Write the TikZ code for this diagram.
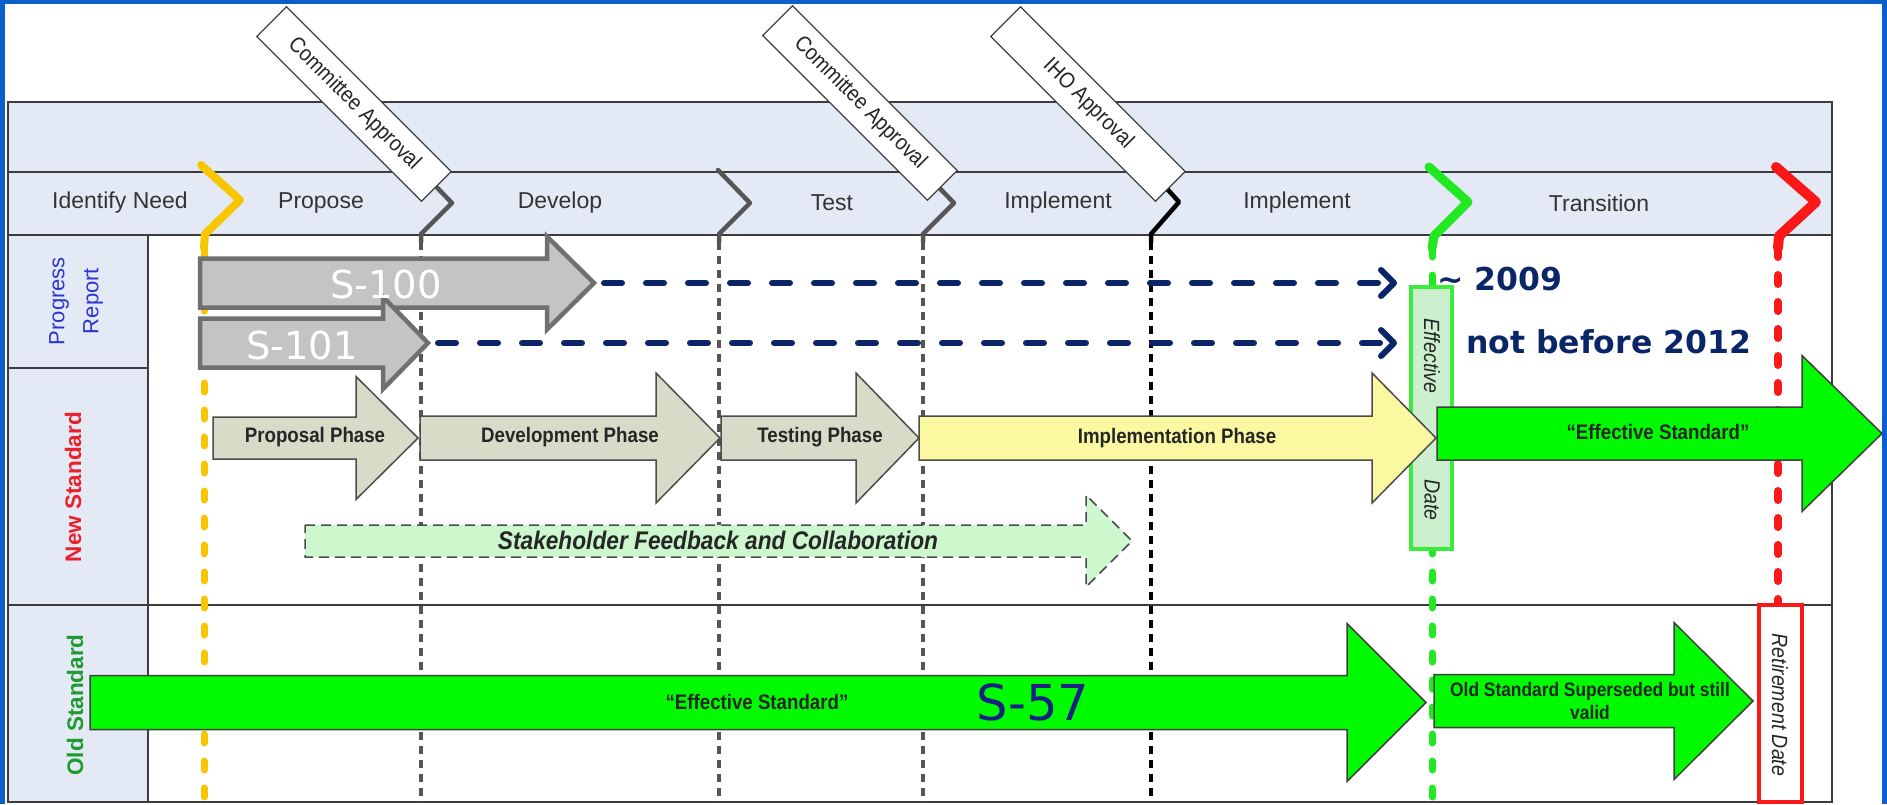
\documentclass[tikz,border=0pt]{standalone}
\usepackage{fontspec}
\setmainfont{Liberation Sans}
\newfontfamily\narrowfont[FakeStretch=0.89]{Liberation Sans}
\newfontfamily\dejavu{DejaVu Sans}
\usetikzlibrary{arrows.meta}

\definecolor{frameblue}{RGB}{10,96,200}
\definecolor{headfill}{RGB}{228,234,245}
\definecolor{tabline}{RGB}{60,60,60}
\definecolor{gold}{RGB}{247,198,0}
\definecolor{gategrey}{RGB}{85,85,85}
\definecolor{gategreen}{RGB}{34,232,34}
\definecolor{gatered}{RGB}{250,24,24}
\definecolor{brightgreen}{RGB}{0,250,0}
\definecolor{navy}{RGB}{10,38,104}
\definecolor{phasefill}{RGB}{217,219,200}
\definecolor{implfill}{RGB}{250,248,160}
\definecolor{feedfill}{RGB}{205,247,205}
\definecolor{datefill}{RGB}{204,240,206}
\definecolor{dateedge}{RGB}{60,236,60}
\definecolor{progblue}{RGB}{44,52,210}
\definecolor{newred}{RGB}{232,33,43}
\definecolor{oldgreen}{RGB}{30,154,46}
\definecolor{sblue}{RGB}{24,32,130}
\definecolor{greyfill}{RGB}{196,196,196}
\definecolor{greyedge}{RGB}{112,112,112}

% block arrow: style, start x, head x, tip x, mid y, half shaft, half head
\newcommand{\blockarrow}[7]{%
  \path[#1] (#2,#5-#6) -- (#3,#5-#6) -- (#3,#5-#7) -- (#4,#5)
    -- (#3,#5+#7) -- (#3,#5+#6) -- (#2,#5+#6) -- cycle;}

\tikzset{
  tabrule/.style={draw=tabline, line width=2pt},
  hdrtext/.style={font=\fontsize{23}{27}\selectfont, text=black!80},
  rowtext/.style={rotate=90, align=center, font=\fontsize{22}{34}\selectfont},
  approval/.style={draw=black!75, fill=white, line width=1.2pt, rotate=-45,
    minimum width=233pt, minimum height=42pt, inner sep=0pt,
    font=\narrowfont\fontsize{22}{26}\selectfont, text=black!85},
  gatechev/.style={line width=4.5pt, line join=round, line cap=round, draw=gategrey},
  gatedash/.style={line width=3.5pt, draw=gategrey, dash pattern=on 8pt off 6pt},
  bigdash/.style={line width=7pt, line cap=round, dash pattern=on 9pt off 18pt},
  greyarrow/.style={fill=greyfill, draw=greyedge, line width=4.5pt},
  phasearrow/.style={fill=phasefill, draw=black!70, line width=1.5pt},
  implarrow/.style={fill=implfill, draw=black!70, line width=1.5pt},
  greenarrow/.style={fill=brightgreen, draw=black!75, line width=1.5pt},
  feedarrow/.style={fill=feedfill, draw=black!70, line width=1.5pt, dash pattern=on 10pt off 6pt},
  phaselabel/.style={font=\narrowfont\bfseries\fontsize{21}{25}\selectfont, text=black!85},
  sname/.style={font=\dejavu\fontsize{38.5}{44}\selectfont, text=white},
  navydash/.style={draw=navy, line width=6pt, line cap=round, dash pattern=on 18pt off 24pt,
    -{Straight Barb[length=13pt, width=26pt, round]}},
  yeartext/.style={font=\dejavu\bfseries\fontsize{31.5}{36}\selectfont, text=navy, anchor=west, inner sep=0pt},
  vlabel/.style={rotate=-90, font=\narrowfont\itshape\fontsize{22}{26}\selectfont, text=black!85},
}

\begin{document}
\begin{tikzpicture}[x=1pt,y=-1pt]
	%\draw[help lines] (0,0) grid (1887,804);
	\useasboundingbox (0,0) rectangle (1887,804);
	\fill[frameblue] (0,0) rectangle (1887,804);
	\fill[white] (5,4) rectangle (1882,804);
	% table
	\fill[headfill] (8,102) rectangle (1832,235);
	\fill[headfill] (8,235) rectangle (148,802);
	\draw[tabrule] (8,102) rectangle (1832,802);
	\draw[tabrule] (8,172) -- (1832,172);
	\draw[tabrule] (8,235) -- (1832,235);
	\draw[tabrule] (8,368) -- (148,368);
	\draw[tabrule] (8,605) -- (1832,605);
	\draw[tabrule] (148,235) -- (148,802);
	\node[hdrtext] (identify) at (120,203) {Identify Need};
	\node[hdrtext] (propose) at (321,203) {Propose};
	\node[hdrtext] (develop) at (560,203) {Develop};
	\node[hdrtext] (test) at (832,203) {Test};
	\node[hdrtext] (implA) at (1058,203) {Implement};
	\node[hdrtext] (implB) at (1297,203) {Implement};
	\node[hdrtext] (transition) at (1599,203) {Transition};
	\node[rowtext, text=progblue] (progress) at (76,301) {Progress\\Report};
	\node[rowtext, text=newred, font=\bfseries\fontsize{22.5}{26}\selectfont] (newstd) at (73,487) {New Standard};
	\node[rowtext, text=oldgreen, font=\bfseries\fontsize{22.5}{26}\selectfont] (oldstd) at (75,705) {Old Standard};
	% gates
	\draw[gatechev, draw=gold, line width=8pt] (201,165) -- (240,200) -- (205,234) -- (204,248);
	\draw[bigdash, draw=gold] (204,248) -- (204,802);
	\foreach \g in {421,719,923}{
		\draw[gatechev] (\g-1,170) -- (\g+31,203) -- (\g,234) -- (\g,242);
		\draw[gatedash] (\g,242) -- (\g,802);
	}
	\draw[gatechev, draw=black] (1150,170) -- (1179,202) -- (1151,234) -- (1151,242);
	\draw[gatedash, draw=black] (1151,242) -- (1151,802);
	\draw[gatechev, draw=gategreen, line width=9pt] (1429,167) -- (1468,202) -- (1434,236) -- (1432,248);
	\draw[bigdash, draw=gategreen] (1432,248) -- (1432,802);
	\draw[gatechev, draw=gatered, line width=10pt] (1776,167) -- (1816,202) -- (1779,236) -- (1778,248);
	\draw[bigdash, draw=gatered, line width=8pt] (1778,248) -- (1778,605);
	\node[draw=dateedge, fill=datefill, line width=4pt, minimum width=41pt, minimum height=262pt, inner sep=0pt] (effdate) at (1431.5,418) {};
	\node[vlabel] (efftext) at (1432,356) {Effective};
	\node[vlabel] (datetext) at (1432,500) {Date};
	% progress report
	\blockarrow{greyarrow}{200}{547}{594}{283}{24.5}{46.5}
	\blockarrow{greyarrow}{200}{383}{428}{343}{24.5}{46}
	\node[sname] (s100) at (386,284) {S-100};
	\node[sname] (s101) at (302,345) {S-101};
	\coordinate (s100tip) at (594,283);
	\coordinate (s101tip) at (428,343);
	\draw[navydash, shorten <=10pt, shorten >=12pt] (s100tip) -- (s100tip -| effdate.west);
	\draw[navydash, shorten <=10pt, shorten >=12pt] (s101tip) -- (s101tip -| effdate.west);
	\node[yeartext] (y2009) at (1437,279) {\textasciitilde\ 2009};
	\node[yeartext] (y2012) at (1466,342) {not before 2012};
	% new standard
	\blockarrow{phasearrow}{213}{356}{418}{438}{21}{61.5}
	\blockarrow{phasearrow}{420}{656}{720}{438}{22}{65}
	\blockarrow{phasearrow}{721}{856}{919}{438}{22}{65}
	\blockarrow{implarrow}{919}{1372}{1436}{438}{22}{65}
	\blockarrow{greenarrow}{1437}{1802}{1882}{433.5}{26.5}{78}
	\node[phaselabel] (proposal) at (315,437) {Proposal Phase};
	\node[phaselabel] (development) at (570,437) {Development Phase};
	\node[phaselabel] (testing) at (820,437) {Testing Phase};
	\node[phaselabel] (implementation) at (1177,438) {Implementation Phase};
	\node[phaselabel] (neweff) at (1658,432) {“Effective Standard”};
	\blockarrow{feedarrow}{305}{1086}{1132}{541}{16}{46}
	\node[phaselabel, font=\narrowfont\bfseries\itshape\fontsize{25.5}{30}\selectfont] (feedback) at (718,540) {Stakeholder Feedback and Collaboration};
	% old standard
	\blockarrow{greenarrow}{90}{1347}{1426}{702.5}{27}{79}
	\blockarrow{greenarrow}{1434}{1674}{1753}{701}{26.5}{78.5}
	\node[phaselabel] (oldeff) at (757,702) {“Effective Standard”};
	\node[font=\dejavu\fontsize{49.5}{56}\selectfont, text=sblue] (s57) at (1033,702) {S-57};
	\node[phaselabel, align=center, font=\narrowfont\bfseries\fontsize{19.5}{23}\selectfont] (superseded) at (1590,701) {Old Standard Superseded but still\\valid};
	\node[draw=gatered, line width=3.5pt, fill=white, minimum width=43pt, minimum height=197pt, inner sep=0pt] (retire) at (1780.5,703.5) {};
	\node[vlabel] (retiretext) at (1780,705) {Retirement Date};
	% approvals
	\node[approval] (appr1) at (354,104) {Committee Approval};
	\node[approval] (appr2) at (860,103) {Committee Approval};
	\node[approval] (appr3) at (1088,104) {IHO Approval};
\end{tikzpicture}
\end{document}
